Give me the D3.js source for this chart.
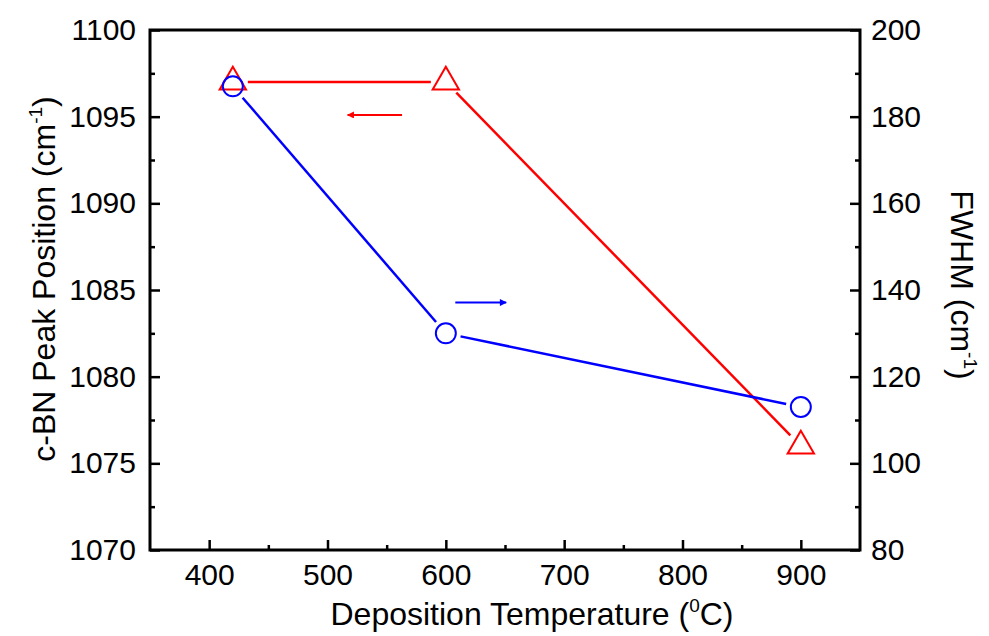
<!DOCTYPE html>
<html><head><meta charset="utf-8">
<script src="https://cdn.jsdelivr.net/npm/d3@7"></script>
<style>
body{margin:0;background:#fff;}
text{font-family:"Liberation Sans",Arial,sans-serif;fill:#000;}
</style></head>
<body><svg id="c" width="989" height="636"></svg>
<script>
// ---- data ----
const temperatures = [420, 600, 900];
const peakPosition = [1097, 1097, 1076];   // left axis, red triangles
const fwhm = [187, 130, 113];              // right axis, blue circles
const xTicks = [400, 500, 600, 700, 800, 900];
const xMinorTicks = [450, 550, 650, 750, 850];
const yLeftTicks = [1070, 1075, 1080, 1085, 1090, 1095, 1100];
const yRightTicks = [80, 100, 120, 140, 160, 180, 200];
// annotation arrows in data coords: [x0, x1, y]
const redArrow = [563, 517, 1095.1];
const blueArrow = [608, 651, 137.1];

const svg = d3.select("#c");
const L = 150, R = 860, T = 30, B = 550;
const x = d3.scaleLinear().domain([350, 950]).range([L, R]);
const yL = d3.scaleLinear().domain([1070, 1100]).range([B, T]);
const yR = d3.scaleLinear().domain([80, 200]).range([B, T]);

const FS = 30;
function styleAxis(g){
  g.attr("font-size",FS).attr("font-family","Liberation Sans, Arial, sans-serif");
  g.selectAll(".domain").remove();
  g.selectAll(".tick line").attr("stroke","#000").attr("stroke-width",2.5);
  g.selectAll("text").attr("font-size",FS).attr("fill","#000");
}
const mid = a => a.slice(0,-1).map((v,i)=>(v+a[i+1])/2);

// bottom axis
svg.append("g").attr("transform",`translate(0,${B})`)
  .call(d3.axisBottom(x).tickValues(xTicks).tickSize(-10).tickPadding(14).tickFormat(d3.format("d"))).call(styleAxis);
svg.append("g").attr("transform",`translate(0,${B})`)
  .call(d3.axisBottom(x).tickValues(xMinorTicks).tickSize(-5).tickFormat("")).call(styleAxis);
// left axis
svg.append("g").attr("transform",`translate(${L},0)`)
  .call(d3.axisLeft(yL).tickValues(yLeftTicks).tickSize(-10).tickPadding(14).tickFormat(d3.format("d"))).call(styleAxis);
svg.append("g").attr("transform",`translate(${L},0)`)
  .call(d3.axisLeft(yL).tickValues(mid(yLeftTicks)).tickSize(-5).tickFormat("")).call(styleAxis);
// right axis
svg.append("g").attr("transform",`translate(${R},0)`)
  .call(d3.axisRight(yR).tickValues(yRightTicks).tickSize(-10).tickPadding(11).tickFormat(d3.format("d"))).call(styleAxis);
svg.append("g").attr("transform",`translate(${R},0)`)
  .call(d3.axisRight(yR).tickValues(mid(yRightTicks)).tickSize(-5).tickFormat("")).call(styleAxis);

// frame
svg.append("rect").attr("x",L).attr("y",T).attr("width",R-L).attr("height",B-T)
  .attr("fill","none").attr("stroke","#000").attr("stroke-width",3);

// gapped lines
function gapped(pts, gap){
  const segs=[];
  for(let i=0;i<pts.length-1;i++){
    const [x0,y0]=pts[i],[x1,y1]=pts[i+1];
    const dx=x1-x0, dy=y1-y0, d=Math.hypot(dx,dy), ux=dx/d, uy=dy/d;
    segs.push([x0+ux*gap,y0+uy*gap,x1-ux*gap,y1-uy*gap]);
  }
  return segs;
}
const redPts = temperatures.map((t,i)=>[x(t), yL(peakPosition[i])]);
const bluePts = temperatures.map((t,i)=>[x(t), yR(fwhm[i])]);
const RED="#ff0000", BLUE="#0000ff";
svg.append("g").selectAll("line").data(gapped(redPts,15)).join("line")
  .attr("x1",d=>d[0]).attr("y1",d=>d[1]).attr("x2",d=>d[2]).attr("y2",d=>d[3])
  .attr("stroke",RED).attr("stroke-width",2.5);
svg.append("g").selectAll("line").data(gapped(bluePts,15)).join("line")
  .attr("x1",d=>d[0]).attr("y1",d=>d[1]).attr("x2",d=>d[2]).attr("y2",d=>d[3])
  .attr("stroke",BLUE).attr("stroke-width",2.5);

// markers
const tri = d3.symbol().type(d3.symbolTriangle).size(300);
svg.append("g").selectAll("path").data(redPts).join("path")
  .attr("d",tri).attr("transform",d=>`translate(${d[0]},${d[1]})`)
  .attr("fill","none").attr("stroke",RED).attr("stroke-width",2);
svg.append("g").selectAll("circle").data(bluePts).join("circle")
  .attr("cx",d=>d[0]).attr("cy",d=>d[1]).attr("r",10)
  .attr("fill","none").attr("stroke",BLUE).attr("stroke-width",2);

// arrows
const defs = svg.append("defs");
[["ar",RED],["ab",BLUE]].forEach(([id,c])=>{
  defs.append("marker").attr("id",id).attr("viewBox","0 0 10 10").attr("refX",9).attr("refY",5)
    .attr("markerWidth",12).attr("markerHeight",7).attr("markerUnits","userSpaceOnUse").attr("orient","auto")
    .append("path").attr("d","M0,0L10,5L0,10Z").attr("fill",c);
});
svg.append("line").attr("x1",x(redArrow[0])).attr("x2",x(redArrow[1]))
  .attr("y1",yL(redArrow[2])).attr("y2",yL(redArrow[2]))
  .attr("stroke",RED).attr("stroke-width",2).attr("marker-end","url(#ar)");
svg.append("line").attr("x1",x(blueArrow[0])).attr("x2",x(blueArrow[1]))
  .attr("y1",yR(blueArrow[2])).attr("y2",yR(blueArrow[2]))
  .attr("stroke",BLUE).attr("stroke-width",2).attr("marker-end","url(#ab)");

// titles
const TS = 32, SS = 19;
function title(parts, cx, cy, rot){
  const g = svg.append("g");
  const t = g.append("text").attr("font-size",TS);
  let prevSup = false;
  parts.forEach(([s,sup])=>{
    if(sup){ t.append("tspan").attr("font-size",SS).attr("dy",-13).text(s); prevSup = true; }
    else { t.append("tspan").attr("dy", prevSup ? 13 : 0).text(s); prevSup = false; }
  });
  const w = t.node().getBBox().width;
  t.attr("x",-w/2);
  g.attr("transform",`translate(${cx},${cy}) rotate(${rot})`);
}
title([["Deposition Temperature ("],["0",1],["C)"]], 532, 625, 0);
title([["c-BN Peak Position (cm"],["-1",1],[")"]], 55, 279, -90);
title([["FWHM (cm"],["-1",1],[")"]], 951, 285, 90);
</script></body></html>
